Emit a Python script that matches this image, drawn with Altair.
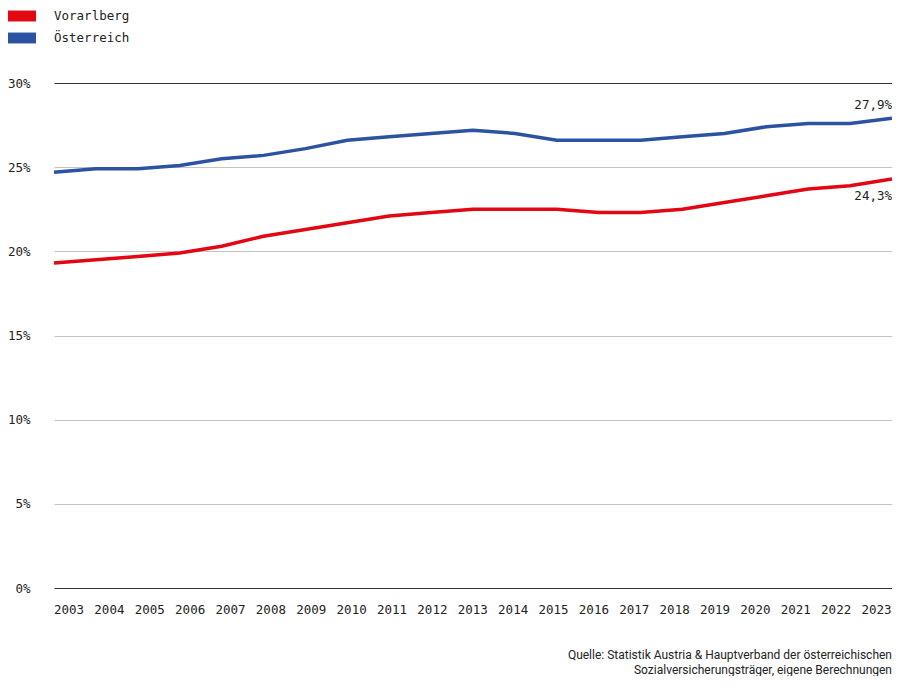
import altair as alt
import pandas as pd

years = list(range(2003, 2024))
vorarlberg = [19.3, 19.5, 19.7, 19.9, 20.3, 20.9, 21.3, 21.7, 22.1, 22.3, 22.5,
              22.5, 22.5, 22.3, 22.3, 22.5, 22.9, 23.3, 23.7, 23.9, 24.3]
oesterreich = [24.7, 24.9, 24.9, 25.1, 25.5, 25.7, 26.1, 26.6, 26.8, 27.0, 27.2,
               27.0, 26.6, 26.6, 26.6, 26.8, 27.0, 27.4, 27.6, 27.6, 27.9]
regions = ["Vorarlberg", "Österreich"]
colors = ["#e30613", "#2c53a1"]
y_ticks = [0, 5, 10, 15, 20, 25, 30]
source_lines = ["Quelle: Statistik Austria & Hauptverband der österreichischen",
                "Sozialversicherungsträger, eigene Berechnungen"]

rows = []
for reg, vals in zip(regions, [vorarlberg, oesterreich]):
    for yr, v in zip(years, vals):
        rows.append({"Jahr": yr, "Wert": v, "Region": reg})
df = pd.DataFrame(rows)

MONO = "DejaVu Sans Mono"
FS = 12.5
TXT = "#222222"

color_scale = alt.Scale(domain=regions, range=colors)
legend_def = alt.Legend(orient="none", legendX=-46, legendY=-81, title=None,
                        symbolType="M-1,-0.39L1,-0.39L1,0.39L-1,0.39Z",
                        symbolSize=784, symbolStrokeWidth=0, symbolOpacity=1,
                        labelFont=MONO, labelFontSize=FS, labelColor=TXT,
                        labelOffset=18, rowPadding=1, direction="vertical")

x_line = alt.X("Jahr:Q", scale=alt.Scale(domain=[2003, 2023], nice=False, zero=False), axis=None)
y_enc = alt.Y(
    "Wert:Q",
    scale=alt.Scale(domain=[0, 30], nice=False, zero=True),
    axis=alt.Axis(
        values=y_ticks, labelExpr="datum.value + '%'", title=None, ticks=False, domain=False,
        labelPadding=24, labelFont=MONO, labelFontSize=FS, labelColor=TXT,
        gridColor={"condition": {"test": "datum.value == 0 || datum.value == 30", "value": "#333333"},
                   "value": "#c4c4c4"},
        gridWidth=1,
    ),
)

axis_layer = alt.Chart(pd.DataFrame({"Jahr": years})).mark_point(opacity=0).encode(
    x=alt.X("Jahr:Q", scale=alt.Scale(domain=[2002.641, 2023.396], nice=False, zero=False),
            axis=alt.Axis(values=years, format="d", title=None, ticks=False, domain=False, grid=False,
                          labelPadding=15, labelFont=MONO, labelFontSize=FS, labelColor=TXT,
                          labelOverlap=False)),
)

# legend carrier: filled symbols, no visible data
legend_layer = alt.Chart(df).transform_filter("false").mark_square(opacity=1, filled=True).encode(
    x=x_line,
    y=alt.Y("Wert:Q"),
    color=alt.Color("Region:N", sort=regions, scale=color_scale, legend=legend_def),
)

lines = alt.Chart(df).mark_line(strokeWidth=3.5).encode(
    x=x_line,
    y=y_enc,
    color=alt.Color("Region:N", sort=regions, scale=color_scale),
)

lab = "replace(format(datum.Wert, '.1f'), '.', ',') + '%'"
top_label = alt.Chart(df).transform_filter(
    "datum.Jahr == 2023 && datum.Region == 'Österreich'"
).transform_calculate(label=lab).mark_text(
    align="right", baseline="bottom", dy=-6, font=MONO, fontSize=FS, color=TXT
).encode(x=x_line, y=alt.Y("Wert:Q"), text="label:N")

bottom_label = alt.Chart(df).transform_filter(
    "datum.Jahr == 2023 && datum.Region == 'Vorarlberg'"
).transform_calculate(label=lab).mark_text(
    align="right", baseline="top", dy=11, font=MONO, fontSize=FS, color=TXT
).encode(x=x_line, y=alt.Y("Wert:Q"), text="label:N")

chart = alt.layer(axis_layer, legend_layer, lines, top_label, bottom_label).resolve_scale(
    x="independent"
).properties(
    width=838, height=505,
    autosize=alt.AutoSizeParams(type="none"),
    padding={"left": 46, "top": 75, "right": 0, "bottom": 88},
    title=alt.TitleParams(source_lines, orient="bottom", anchor="end", frame="group",
                          font="Roboto", fontSize=12, fontWeight="normal", color=TXT,
                          offset=34, lineHeight=15),
    background="white",
).configure_view(stroke=None)

chart.save("out.html", embed_options={"renderer": "svg", "actions": False})
